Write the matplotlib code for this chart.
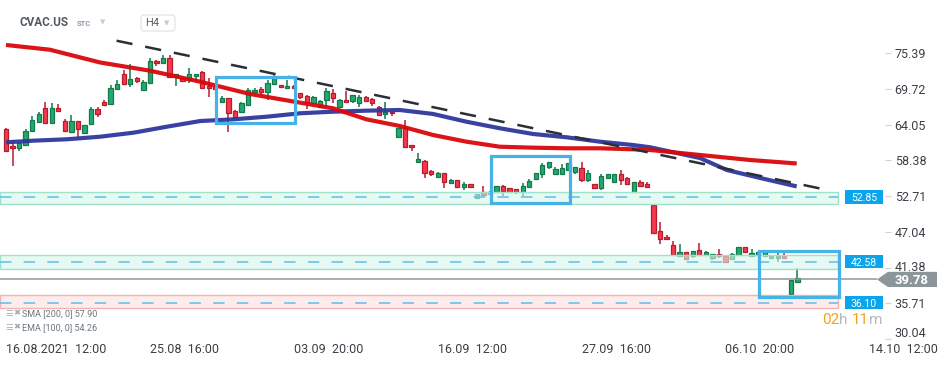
import matplotlib
matplotlib.use('Agg')
import numpy as np
import matplotlib.pyplot as plt
import matplotlib.transforms as mtransforms
from matplotlib.patches import Rectangle, Polygon, FancyBboxPatch

plt.rcParams['font.family'] = ['Roboto', 'DejaVu Sans']

# ---- data (H4 candles, CVAC.US) ----
open_ = [63.33, 60.63, 60.31, 60.83, 63.10, 64.53, 66.66, 64.28, 66.66, 64.64,
         62.90, 64.60, 62.69, 64.12, 66.50, 67.66, 67.29, 69.68, 72.10, 70.47,
         71.42, 69.56, 70.63, 74.22, 73.80, 74.60, 71.63, 71.42, 71.15, 71.74,
         72.37, 70.25, 70.09, 67.61, 68.25, 66.23, 66.02, 67.18, 69.20, 69.72,
         69.20, 70.47, 70.36, 69.83, 70.20, 69.04, 68.61, 67.55, 66.91, 67.98,
         69.14, 66.82, 67.98, 67.77, 67.55, 68.41, 68.09, 66.91, 65.71, 66.12,
         62.15, 63.48, 60.83, 58.09, 58.29, 56.71, 55.80, 56.34, 54.85, 55.28,
         54.22, 54.64, 52.47, 53.33, 53.01, 53.42, 54.33, 53.96, 53.80, 53.42,
         54.22, 55.39, 56.18, 57.39, 56.18, 56.23, 56.87, 56.60, 57.14, 55.28,
         54.60, 53.96, 55.64, 55.01, 56.18, 55.55, 53.33, 54.91, 54.60, 51.31,
         47.18, 46.28, 44.96, 43.22, 43.80, 43.26, 44.17, 43.37, 42.85, 43.48,
         43.26, 42.69, 43.37, 44.69, 43.26, 43.37, 43.26, 42.85, 42.85, 43.26,
         37.23, 39.14]
close_ = [59.88, 60.31, 61.10, 63.01, 64.75, 65.71, 64.28, 66.66, 66.18, 63.01,
          64.60, 63.33, 64.06, 66.50, 65.71, 67.23, 69.83, 70.52, 70.47, 71.36,
          71.04, 70.79, 74.12, 73.80, 74.60, 71.68, 72.06, 70.99, 72.06, 72.10,
          69.83, 69.83, 69.68, 68.34, 65.96, 65.07, 67.45, 69.56, 69.61, 69.20,
          70.63, 71.52, 69.99, 70.20, 69.83, 68.41, 67.55, 68.41, 67.77, 69.36,
          68.25, 67.98, 67.61, 68.72, 68.41, 67.87, 67.45, 65.60, 66.12, 65.87,
          63.48, 60.56, 60.47, 58.61, 56.44, 56.23, 56.44, 55.01, 55.28, 54.22,
          54.64, 54.22, 53.01, 52.90, 53.42, 54.33, 53.58, 53.42, 53.42, 54.33,
          55.12, 56.34, 57.66, 58.09, 57.02, 57.14, 57.93, 57.29, 55.28, 56.34,
          53.96, 55.91, 56.18, 56.18, 55.28, 54.60, 54.91, 54.37, 54.22, 46.91,
          45.91, 45.87, 43.37, 43.80, 42.74, 44.01, 43.37, 43.90, 43.53, 43.22,
          42.22, 43.48, 44.69, 43.80, 43.64, 43.80, 43.80, 43.26, 43.26, 42.85,
          39.41, 39.78]
high_ = [63.48, 61.63, 61.20, 63.33, 65.44, 66.02, 67.66, 67.50, 67.34, 64.91,
         65.60, 64.60, 64.06, 66.91, 66.82, 67.98, 70.31, 71.15, 72.74, 73.69,
         71.68, 71.15, 74.60, 74.37, 75.12, 75.12, 72.06, 71.52, 73.01, 72.10,
         72.58, 71.52, 70.30, 68.66, 68.34, 66.39, 67.71, 69.83, 69.83, 69.99,
         71.15, 71.95, 70.36, 71.15, 70.30, 69.04, 68.77, 68.61, 67.98, 69.83,
         69.68, 68.09, 69.41, 68.82, 68.72, 68.61, 68.25, 67.02, 67.66, 66.12,
         63.58, 64.80, 60.83, 59.61, 58.45, 56.87, 56.60, 56.44, 55.44, 55.35,
         55.01, 54.64, 53.05, 54.33, 53.50, 54.33, 54.48, 53.96, 53.80, 54.75,
         55.39, 56.34, 57.93, 58.09, 57.29, 57.82, 58.00, 57.29, 58.18, 56.87,
         54.60, 56.18, 56.18, 56.18, 56.87, 55.71, 54.91, 55.28, 54.91, 51.31,
         48.66, 46.55, 45.60, 45.07, 43.80, 44.01, 45.33, 44.01, 43.53, 44.33,
         43.26, 43.64, 44.69, 44.69, 44.33, 43.90, 43.80, 43.26, 43.64, 43.64,
         39.41, 41.26]
low_ = [59.77, 57.55, 59.93, 60.72, 62.95, 64.28, 64.28, 64.28, 66.18, 63.01,
        62.90, 61.90, 62.58, 64.12, 65.33, 67.23, 67.29, 69.68, 70.47, 70.09,
        70.63, 69.56, 70.63, 73.42, 73.80, 71.52, 70.25, 70.99, 70.63, 70.99,
        69.83, 68.50, 69.50, 67.61, 62.95, 65.07, 66.02, 67.07, 69.04, 68.77,
        67.98, 70.47, 69.99, 69.83, 69.75, 68.09, 66.50, 67.55, 66.82, 66.91,
        67.55, 66.82, 67.61, 67.45, 66.91, 67.87, 67.02, 65.60, 64.91, 65.44,
        62.15, 60.41, 59.93, 58.09, 55.64, 55.96, 55.55, 54.06, 54.64, 54.15,
        53.69, 54.12, 52.47, 52.63, 52.95, 53.42, 52.74, 53.17, 53.01, 52.63,
        54.22, 55.39, 55.55, 56.98, 56.18, 56.23, 56.87, 56.23, 54.91, 54.91,
        53.96, 53.69, 55.64, 55.01, 54.48, 54.60, 53.33, 54.37, 54.06, 46.91,
        45.12, 45.87, 43.37, 43.22, 42.58, 42.95, 43.37, 43.37, 42.58, 42.95,
        42.22, 42.58, 43.22, 43.80, 43.26, 43.30, 43.26, 42.85, 42.31, 42.85,
        37.23, 39.14]

# moving averages (candle index, value)
sma_x = [0, 6.7, 14.4, 22.0, 29.7, 37.3, 45.0, 50.0, 55.1, 60.2, 65.3, 70.4,
         75.5, 80.6, 85.7, 90.8, 95.9, 98.5, 106.1, 113.8, 120.9]
sma_y = [76.71, 75.96, 73.93, 72.63, 70.88, 68.93, 67.55, 66.66, 64.91, 63.85,
         62.42, 61.36, 60.56, 60.41, 60.31, 60.31, 60.15, 60.04, 59.25, 58.45, 57.90]
ema_x = [0, 4.2, 9.3, 14.4, 19.5, 24.6, 29.7, 34.8, 39.9, 45.0, 50.0, 55.1, 60.2,
         65.3, 70.4, 75.5, 80.6, 85.7, 90.8, 95.9, 98.5, 106.1, 110.2, 115.3, 120.9]
ema_y = [61.26, 61.52, 61.74, 62.15, 62.79, 63.74, 64.64, 64.91, 65.33, 65.87,
         66.12, 66.28, 66.39, 65.76, 64.53, 63.49, 62.58, 62.06, 61.36, 60.83,
         60.47, 58.77, 56.87, 55.60, 54.26]

trend_x = [16.9, 126.0]
trend_y = [77.39, 53.6]

levels = [52.85, 42.58, 36.10]
band_lo = [51.42, 41.20, 34.96]
band_hi = [53.42, 43.37, 36.98]
band_kind = ['support', 'support', 'resist']
last_price = 39.78

box_x0 = [32.1, 74.2, 115.1]
box_x1 = [44.2, 86.2, 127.4]
box_lo = [64.33, 51.58, 36.66]
box_hi = [71.63, 59.09, 44.06]

yticks = [75.39, 69.72, 64.05, 58.38, 52.71, 47.04, 41.38, 35.71, 30.04]
xtick_pos = [0, 22, 44, 66, 88, 110, 132]
xtick_lbl = ['16.08.2021  12:00', '25.08  16:00', '03.09  20:00', '16.09  12:00',
             '27.09  16:00', '06.10  20:00', '14.10  12:00']

# ---- figure ----
W, H = 950, 365
fig = plt.figure(figsize=(W / 100, H / 100), dpi=100)
ax = fig.add_axes([0, 25 / H, 885 / W, 340 / H])
ax.set_xlim(-0.92, 134.4)
ax.set_ylim(29.88, 83.85)
for s in ax.spines.values():
    s.set_visible(False)


def fx(px):
    return px / W


def fy(py):
    return 1 - py / H


o = np.array(open_)
c = np.array(close_)
x = np.arange(len(o))
up = c >= o
fill = np.where(up, '#25a86f', '#f23a4c')
edge = np.where(up, '#127a4b', '#b81b2d')

ax.vlines(x, low_, high_, colors=edge, lw=1.1, zorder=2)
ax.bar(x, np.maximum(np.abs(c - o), 0.12), bottom=np.minimum(o, c), width=0.66,
       color=fill, edgecolor=edge, linewidth=0.9, zorder=3)

ax.plot(ema_x, ema_y, color='#2f389c', lw=3.0, alpha=0.95, zorder=4,
        solid_capstyle='butt')
ax.plot(sma_x, sma_y, color='#d9070b', lw=3.0, alpha=0.95, zorder=4,
        solid_capstyle='butt')

tl, = ax.plot(trend_x, trend_y, color='#2a2f35', lw=1.8, zorder=5)
tl.set_dashes((6.5, 5.2))

# price-level marks sit ~2px below their axis value in the terminal
nudge = mtransforms.ScaledTranslation(0, -1.8 / 100, fig.dpi_scale_trans)
lvl_tr = ax.transData + nudge

# support / resistance bands
band_x0, band_x1 = -0.92, 127.2
for lv, lo, hi, kind in zip(levels, band_lo, band_hi, band_kind):
    if kind == 'support':
        fc, ec = (0.84, 0.96, 0.92, 0.6), '#9fe2c9'
    else:
        fc, ec = (0.99, 0.88, 0.88, 0.6), '#f4b2b2'
    ax.add_patch(Rectangle((band_x0, lo), band_x1 - band_x0, hi - lo,
                           facecolor=fc, edgecolor=ec, lw=1.0, zorder=6))
    ln, = ax.plot([band_x0, band_x1], [lv, lv], color='#5bbfec', lw=1.1,
                  zorder=6.5, transform=lvl_tr)
    ln.set_dashes((7.5, 8.0))

# highlight boxes
for x0, x1, lo, hi in zip(box_x0, box_x1, box_lo, box_hi):
    ax.add_patch(Rectangle((x0, lo), x1 - x0, hi - lo, fill=False,
                           edgecolor='#46b2e5', lw=2.3, zorder=7))

# last price line + tag
ax.hlines(last_price, -0.92, 133.2, colors='#8f979c', lw=1.1, zorder=6.8,
          clip_on=False, transform=lvl_tr)
bt = mtransforms.blended_transform_factory(fig.transFigure, ax.transData) + nudge
hh = 7.6 / 6.3
ax.add_patch(Polygon([(fx(877), last_price), (fx(888), last_price + hh),
                      (fx(937), last_price + hh), (fx(937), last_price - hh),
                      (fx(888), last_price - hh)], closed=True,
                     facecolor='#8c959a', edgecolor='none', transform=bt,
                     clip_on=False, zorder=10))
ax.text(fx(912), last_price, f'{last_price:.2f}', transform=bt, color='white',
        fontsize=9.5, fontweight='bold', ha='center', va='center_baseline',
        zorder=11)

# level tags
lh = 6.7 / 6.3
for lv in levels:
    ax.add_patch(Rectangle((fx(845), lv - lh), fx(38), 2 * lh, transform=bt,
                           facecolor='#0aa5ea', edgecolor='none', clip_on=False,
                           zorder=10))
    ax.text(fx(864), lv, f'{lv:.2f}', transform=bt, color='white', fontsize=7.5,
            ha='center', va='center_baseline', zorder=11)

# axes ticks
ax.yaxis.tick_right()
ax.set_yticks(yticks)
ax.set_yticklabels([f'{v:.2f}' for v in yticks])
ax.tick_params(axis='y', length=4, color='#d0d4d8', pad=3, labelsize=9,
               labelcolor='#3b4046')
ticks = ax.yaxis.get_major_ticks()
lab = ticks[-1].label2
lab.set_transform(lab.get_transform() +
                  mtransforms.ScaledTranslation(0, 5 / 72, fig.dpi_scale_trans))
lab = ticks[-3].label2
lab.set_transform(lab.get_transform() +
                  mtransforms.ScaledTranslation(0, 1 / 72, fig.dpi_scale_trans))
ax.set_xticks(xtick_pos)
ax.set_xticklabels(xtick_lbl, ha='left')
ax.tick_params(axis='x', length=0, pad=2, labelsize=9, labelcolor='#3b4046')

# countdown
t = fig.text(fx(822), fy(320), '02', color='#f5a21b', fontsize=11, va='center')
parts = [('h', '#b3bac0', 0), ('11', '#f5a21b', 3), ('m', '#b3bac0', 0)]
prev = t
for s, col, off in parts:
    prev = ax.annotate(s, xy=(1, 0), xycoords=prev, xytext=(off, 0),
                       textcoords='offset points', color=col, fontsize=11,
                       va='bottom', ha='left', annotation_clip=False)

# indicator legend
for i, lbl in enumerate(['SMA [200, 0] 57.90', 'EMA [100, 0] 54.26']):
    yy = 313 + 14 * i
    fig.text(fx(5), fy(yy), '\u2630', color='#a3abb2', fontsize=6, va='center',
             family='DejaVu Sans')
    fig.text(fx(13), fy(yy), '\u2716', color='#a3abb2', fontsize=6, va='center',
             family='DejaVu Sans')
    fig.text(fx(22), fy(yy + 1), lbl, color='#6d767e', fontsize=6.5, va='center')

# header
fig.text(fx(20), fy(23), 'CVAC.US', color='#4f5a65', fontsize=8.5,
         fontweight='bold', va='center')
fig.text(fx(77), fy(24), 'STC', color='#8c9cab', fontsize=5.5, fontweight='bold',
         va='center')
fig.text(fx(100), fy(22), '\u25bc', color='#c9cfd5', fontsize=5, va='center',
         family='DejaVu Sans')
fig.patches.append(FancyBboxPatch((141, H - 31), 34, 16,
                                  boxstyle='round,pad=0,rounding_size=3',
                                  facecolor='white', edgecolor='#dde1e5', lw=0.8,
                                  transform=mtransforms.IdentityTransform(),
                                  figure=fig))
fig.text(fx(145), fy(23), 'H4', color='#59626b', fontsize=8, va='center')
fig.text(fx(164), fy(23), '\u25bc', color='#c4cad0', fontsize=5, va='center',
         family='DejaVu Sans')

fig.savefig('out.png', dpi=100)
